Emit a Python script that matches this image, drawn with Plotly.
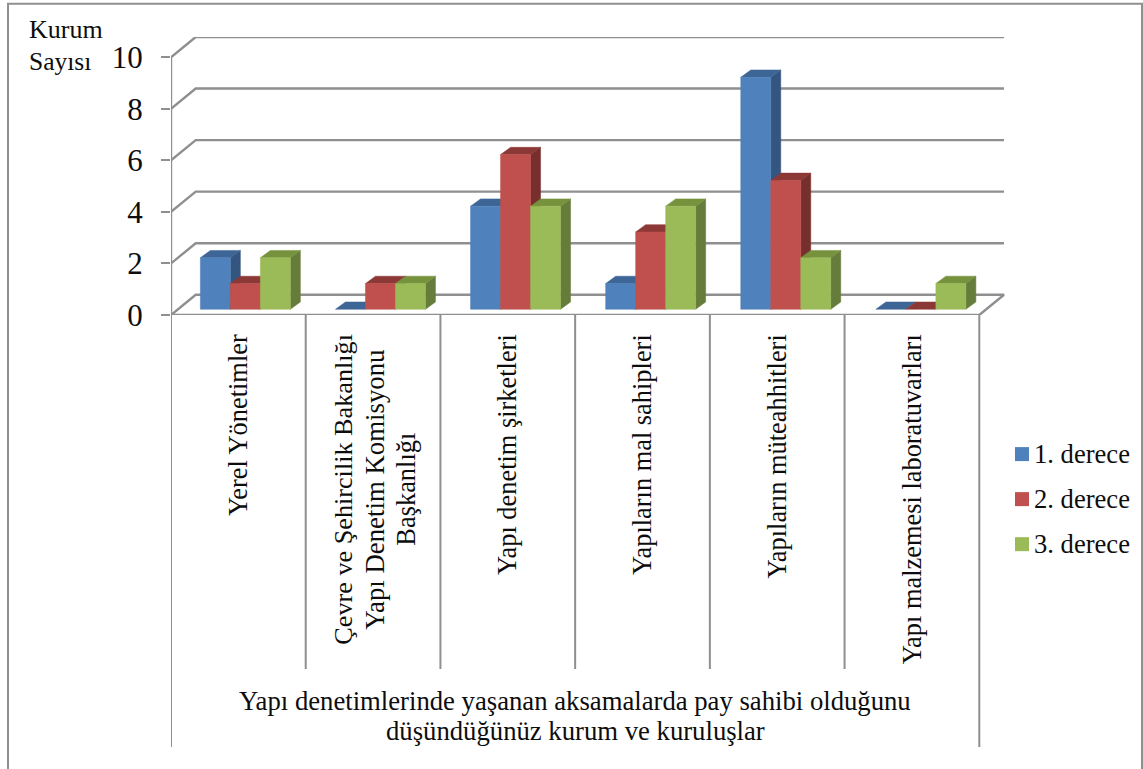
import plotly.graph_objects as go

categories = ["Yerel Yönetimler",
              "",
              "Yapı denetim şirketleri",
              "Yapıların mal sahipleri",
              "Yapıların müteahhitleri",
              "Yapı malzemesi laboratuvarları"]
category_2_lines = ["Çevre ve Şehircilik Bakanlığı", "Yapı Denetim Komisyonu", "Başkanlığı"]
derece_1 = [2, 0, 4, 1, 9, 0]
derece_2 = [1, 1, 6, 3, 5, 0]
derece_3 = [2, 1, 4, 4, 2, 1]
series_names = ["1. derece", "2. derece", "3. derece"]
y_ticks = [0, 2, 4, 6, 8, 10]
axis_title = ["Yapı denetimlerinde yaşanan aksamalarda pay sahibi olduğunu",
              "düşündüğünüz kurum ve kuruluşlar"]
y_title = ["Kurum", "Sayısı"]

FONT = "Liberation Serif"
INK = "#0d0d0d"
GREY = "#8f8f8f"
W, H = 1143, 769
L, R, T, B = 171, 1006, 37.2, 315            # plot box in page pixels
UX, UY = (979.3 - 171) / 6, 25.76            # pixels per category / per value unit
DX, DY = 24.7 / UX, 20.2 / UY                # depth of the wall
BDX, BDY = 10 / UX, 7.3 / UY                 # depth of a bar
OX, OY = 7.0 / UX, 5.7 / UY                  # bar offset from the front plane
STEP = 135.1 / UX                            # spacing between bar groups
BW = 30 / UX
TICK_SIZE = 26.4
front = ["#4F81BD", "#C0504D", "#9BBB59"]
side = ["#34557F", "#772F2D", "#667C3B"]
top = ["#3D6596", "#8C3836", "#76923C"]
all_vals = [derece_1, derece_2, derece_3]


def px(x):
    return (x - L) / (R - L)


def py(y):
    return (B - y) / (B - T)


fig = go.Figure()

x0, x1 = -0.5, 5.5
for v in y_ticks:
    xs = [x0, x0 + DX, x1 + DX]
    ys = [v, v + DY, v + DY]
    if v == 0:
        xs += [x1, x0]
        ys += [0, 0]
    fig.add_trace(go.Scatter(x=xs, y=ys, mode="lines", line=dict(color=GREY, width=2.4),
                             hoverinfo="skip", showlegend=False, cliponaxis=False))
fig.add_trace(go.Scatter(x=[x0, x0], y=[0, 10], mode="lines", line=dict(color=GREY, width=2.4),
                         hoverinfo="skip", showlegend=False, cliponaxis=False))


def polys(cells):
    xs, ys = [], []
    for c in cells:
        xs += [p[0] for p in c] + [c[0][0], None]
        ys += [p[1] for p in c] + [c[0][1], None]
    return xs, ys


for s, vals in enumerate(all_vals):
    tops, sides, fronts = [], [], []
    for i, v in enumerate(vals):
        a = i * STEP + OX - 1.5 * BW + s * BW
        b = a + BW
        y0, y1 = OY, OY + v
        tops.append([(a, y1), (b, y1), (b + BDX, y1 + BDY), (a + BDX, y1 + BDY)])
        if v > 0:
            sides.append([(b, y0), (b + BDX, y0 + BDY), (b + BDX, y1 + BDY), (b, y1)])
            fronts.append([(a, y0), (b, y0), (b, y1), (a, y1)])
    for cells, col in ((sides, side[s]), (tops, top[s]), (fronts, front[s])):
        xs, ys = polys(cells)
        fig.add_trace(go.Scatter(x=xs, y=ys, mode="lines", fill="toself", fillcolor=col,
                                 line=dict(color=col, width=0.5), name=series_names[s],
                                 showlegend=False, hoverinfo="name", cliponaxis=False))

shapes = []
shapes.append(dict(type="rect", xref="paper", yref="paper", x0=px(8), x1=px(1142), y0=py(4), y1=py(790),
                   line=dict(color=GREY, width=2), fillcolor="rgba(0,0,0,0)", layer="below"))
for i in range(7):
    end = 746.7 if i in (0, 6) else 668.7
    shapes.append(dict(type="line", xref="x", yref="paper", x0=i - 0.5, x1=i - 0.5, y0=py(B), y1=py(end),
                       line=dict(color=GREY, width=2)))


def label(text, x, y, size, xanchor="left", yanchor="middle", **kw):
    return dict(text=text, xref="paper", yref="paper", x=px(x), y=py(y), xanchor=xanchor, yanchor=yanchor,
                showarrow=False, font=dict(family=FONT, size=size, color=INK), **kw)


ann = []
for s, name in enumerate(series_names):
    cy = 454 + 45 * s
    shapes.append(dict(type="rect", xref="paper", yref="paper", x0=px(1015), x1=px(1029), y0=py(cy - 7), y1=py(cy + 7),
                       fillcolor=front[s], line=dict(width=0)))
    ann.append(label(name, 1032, cy, 26.6))
ann.append(label(y_title[0], 26.5, 30, 26))
ann.append(label(y_title[1], 26.5, 62, 25.5))
ann.append(label(axis_title[0], 575, 701, 26.7, xanchor="center"))
ann.append(label(axis_title[1], 575, 731, 26.7, xanchor="center"))
for line, lx, size in zip(category_2_lines, (344, 375, 406), (26.2, 26.8, 26.4)):
    ann.append(label(line, lx, 489.5, size, xanchor="center", textangle=-90))

fig.update_layout(
    width=W, height=H, margin=dict(l=L, r=W - R, t=T, b=H - B, pad=0),
    paper_bgcolor="white", plot_bgcolor="white", showlegend=False,
    shapes=shapes, annotations=ann,
    xaxis=dict(range=[-0.5, -0.5 + (R - L) / UX], tickmode="array", tickvals=list(range(6)), ticktext=categories,
               tickangle=-90, showgrid=False, zeroline=False, showline=False, ticks="", ticklabelstandoff=13,
               tickfont=dict(family=FONT, size=TICK_SIZE, color=INK)),
    yaxis=dict(range=[0, (B - T) / UY], tickmode="array", tickvals=y_ticks, ticks="outside", ticklen=9, tickwidth=2,
               tickcolor=GREY, showgrid=False, zeroline=False, showline=False, ticklabelstandoff=12,
               tickfont=dict(family=FONT, size=31, color=INK)),
)
fig.write_html("out.html", config={"displayModeBar": False},
               post_script="document.body.style.margin='0';document.body.style.overflow='hidden';")
